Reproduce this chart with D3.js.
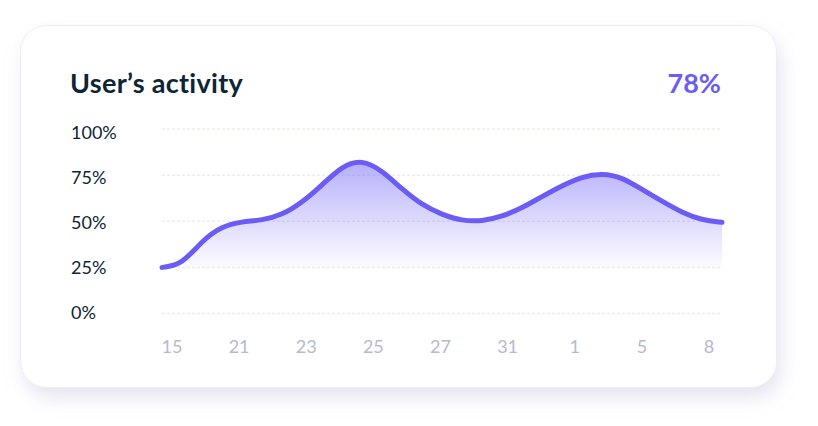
<!DOCTYPE html>
<html>
<head>
<meta charset="utf-8">
<script src="https://cdn.jsdelivr.net/npm/d3@7"></script>
<style>
  html, body { margin: 0; padding: 0; background: #ffffff; }
  svg { display: block; }
</style>
</head>
<body>
<div id="chart"></div>
<script>
// ---- data ----
const title = "User’s activity";
const headline = "78%";
const xLabels = ["15", "21", "23", "25", "27", "31", "1", "5", "8"];
const yTicks = [0, 25, 50, 75, 100];
const activity = [25.0, 26.5, 39.5, 47.4, 49.8, 50.5, 53.4, 60.1, 69.6, 80.0, 83.5, 77.5, 67.4, 58.8, 53.6,
                  50.2, 50.0, 52.5, 57.2, 63.4, 69.3, 74.2, 76.0, 73.9, 67.2, 60.9, 54.7, 50.6, 49.4];
const areaBase = 25;

// ---- layout ----
const W = 818, H = 426;
const svg = d3.select("#chart").append("svg").attr("width", W).attr("height", H);
const defs = svg.append("defs");

const shadow = defs.append("filter").attr("id", "shadow")
  .attr("x", "-10%").attr("y", "-10%").attr("width", "125%").attr("height", "135%");
shadow.append("feDropShadow").attr("dx", 4).attr("dy", 10).attr("stdDeviation", 9)
  .attr("flood-color", "#cfcce3").attr("flood-opacity", 0.5);

const x = d3.scaleLinear().domain([0, activity.length - 1]).range([162, 722]);
const xl = d3.scalePoint().domain(xLabels).range([172, 709]);
const y = d3.scaleLinear().domain([0, 100]).range([313.5, 129]);

const grad = defs.append("linearGradient").attr("id", "fillGrad")
  .attr("gradientUnits", "userSpaceOnUse")
  .attr("x1", 0).attr("x2", 0)
  .attr("y1", y(d3.max(activity))).attr("y2", y(areaBase));
grad.append("stop").attr("offset", 0).attr("stop-color", "#6a5cf5").attr("stop-opacity", 0.5);
grad.append("stop").attr("offset", 0.45).attr("stop-color", "#6a5cf5").attr("stop-opacity", 0.28);
grad.append("stop").attr("offset", 1).attr("stop-color", "#6a5cf5").attr("stop-opacity", 0.02);

// card
svg.append("rect").attr("x", 20.5).attr("y", 25.5).attr("width", 756).attr("height", 362)
  .attr("rx", 26).attr("fill", "#ffffff").attr("stroke", "#eeecfb").attr("stroke-width", 1)
  .attr("filter", "url(#shadow)");

// title
svg.append("text").attr("x", 70).attr("y", 93).text(title)
  .attr("font-family", "Lato, 'Open Sans', sans-serif").attr("font-weight", 700)
  .attr("font-size", 27).attr("letter-spacing", 0.3).attr("fill", "#0e2536");
svg.append("text").attr("x", 721).attr("y", 93).attr("text-anchor", "end").text(headline)
  .attr("font-family", "Lato, 'Open Sans', sans-serif").attr("font-weight", 700)
  .attr("font-size", 27).attr("fill", "#6a5cf5");

// gridlines
svg.append("g").selectAll("line").data(yTicks).join("line")
  .attr("x1", 162).attr("x2", 722)
  .attr("y1", d => y(d)).attr("y2", d => y(d))
  .attr("stroke", "#ececf3").attr("stroke-width", 1.5).attr("stroke-dasharray", "3 2");

// y labels
const yLab = d3.scaleLinear().domain([0, 100]).range([319, 139]);
svg.append("g").selectAll("text").data(yTicks).join("text")
  .attr("x", 71).attr("y", d => yLab(d))
  .text(d => d + "%")
  .attr("font-family", "Lato, 'Open Sans', sans-serif").attr("font-size", 18)
  .attr("fill", "#0e2536");

// x labels
svg.append("g").selectAll("text").data(xLabels).join("text")
  .attr("x", d => xl(d)).attr("y", 353).attr("text-anchor", "middle")
  .text(d => d)
  .attr("font-family", "Lato, 'Open Sans', sans-serif").attr("font-size", 18)
  .attr("fill", "#b6b9d0");

// area + line
const curve = d3.curveBasis;
const area = d3.area().x((d, i) => x(i)).y0(y(areaBase)).y1(d => y(d)).curve(curve);
const line = d3.line().x((d, i) => x(i)).y(d => y(d)).curve(curve);

svg.append("path").datum(activity).attr("d", area).attr("fill", "url(#fillGrad)");
svg.append("path").datum(activity).attr("d", line).attr("fill", "none")
  .attr("stroke", "#6a5cf5").attr("stroke-width", 5)
  .attr("stroke-linecap", "round").attr("stroke-linejoin", "round");
</script>
</body>
</html>
